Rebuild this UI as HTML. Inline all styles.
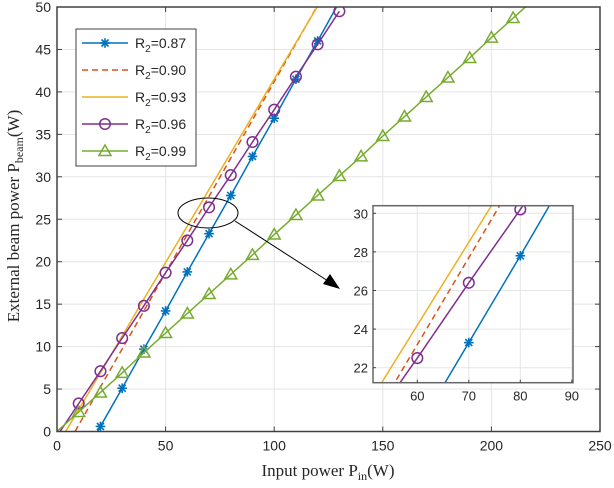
<!DOCTYPE html>
<html><head><meta charset="utf-8"><style>
html,body{margin:0;padding:0;background:#fff;overflow:hidden;width:614px;height:488px}
svg{display:block}
svg text{font-family:"Liberation Sans",sans-serif;fill:#262626}
</style></head><body>
<svg id="c" width="614" height="488" xmlns="http://www.w3.org/2000/svg"></svg>
<script>
const xTicks=[0,50,100,150,200,250];
const yTicks=[0,5,10,15,20,25,30,35,40,45,50];
const insetXTicks=[60,70,80,90];
const insetYTicks=[22,24,26,28,30];
const seriesNames=["R2=0.87","R2=0.90","R2=0.93","R2=0.96","R2=0.99"];
const blueX=[18.7,20,30,40,50,60,70,80,90,100,110,120,130];
const blueY=[0,0.6,5.1,9.7,14.2,18.8,23.3,27.8,32.4,36.9,41.5,46.0,50.6];
const blueMarkX=[20,30,40,50,60,70,80,90,100,110,120];
const blueMarkY=[0.6,5.1,9.7,14.2,18.8,23.3,27.8,32.4,36.9,41.5,46.0];
const redX=[8.3,20,40,60,80,100,120];
const redY=[0,5.25,14.2,23.2,32.2,41.2,50.2];
const yellowX=[4,20,40,60,80,100,120];
const yellowY=[0,6.9,15.6,24.2,32.8,41.5,50.1];
const purpleX=[1.4,10,20,30,40,50,60,70,80,90,100,110,120,130];
const purpleY=[0,3.3,7.1,11.0,14.8,18.7,22.5,26.4,30.2,34.1,37.9,41.8,45.6,49.5];
const purpleMarkX=[10,20,30,40,50,60,70,80,90,100,110,120,130];
const purpleMarkY=[3.3,7.1,11.0,14.8,18.7,22.5,26.4,30.2,34.1,37.9,41.8,45.6,49.5];
const greenX=[0,10,20,30,40,50,60,70,80,90,100,110,120,130,140,150,160,170,180,190,200,210,220];
const greenY=[0,2.3,4.6,6.9,9.3,11.6,13.9,16.2,18.5,20.8,23.2,25.5,27.8,30.1,32.4,34.8,37.1,39.4,41.7,44.0,46.4,48.7,51.0];
const greenMarkX=[10,20,30,40,50,60,70,80,90,100,110,120,130,140,150,160,170,180,190,200,210];
const greenMarkY=[2.3,4.6,6.9,9.3,11.6,13.9,16.2,18.5,20.8,23.2,25.5,27.8,30.1,32.4,34.8,37.1,39.4,41.7,44.0,46.4,48.7];

const NS="http://www.w3.org/2000/svg";
const svg=document.getElementById('c');
function mk(tag,attrs,parent){const e=document.createElementNS(NS,tag);for(const k in attrs)e.setAttribute(k,attrs[k]);(parent||svg).appendChild(e);return e;}
const L=57,R=600,T=7,B=431.5;
const X=v=>L+(v-0)/250*(R-L);
const Y=v=>B-(v-0)/50*(B-T);
const iL=373,iR=573,iT=205.7,iB=382.7;
const IX=v=>417.3+(v-60)*5.15;
const IY=v=>213.3-(v-30)*19.3;
const COL=["#0072BD","#D95319","#EDB120","#7E2F8E","#77AC30"];

const defs=mk('defs',{});
const cp=mk('clipPath',{id:'mainclip'},defs);mk('rect',{x:L,y:T,width:R-L,height:B-T},cp);
const cp2=mk('clipPath',{id:'insclip'},defs);mk('rect',{x:iL,y:iT,width:iR-iL,height:iB-iT},cp2);

let g=mk('g',{});


xTicks.forEach(t=>{mk('line',{x1:X(t),x2:X(t),y1:T,y2:B,stroke:'#e5e5e5','stroke-width':1},g);});
yTicks.forEach(t=>{mk('line',{x1:L,x2:R,y1:Y(t),y2:Y(t),stroke:'#e5e5e5','stroke-width':1},g);});

function marker(type,cx,cy,col,parent){
  if(type==='star'){const s=4.8;
    mk('line',{x1:cx-s,x2:cx+s,y1:cy,y2:cy,stroke:col,'stroke-width':1.6},parent);
    mk('line',{x1:cx,x2:cx,y1:cy-s,y2:cy+s,stroke:col,'stroke-width':1.6},parent);
    mk('line',{x1:cx-3.5,x2:cx+3.5,y1:cy-3.5,y2:cy+3.5,stroke:col,'stroke-width':1.6},parent);
    mk('line',{x1:cx-3.5,x2:cx+3.5,y1:cy+3.5,y2:cy-3.5,stroke:col,'stroke-width':1.6},parent);}
  else if(type==='circle'){mk('circle',{cx:cx,cy:cy,r:5.3,fill:'none',stroke:col,'stroke-width':1.5},parent);}
  else if(type==='tri'){mk('polygon',{points:`${cx},${cy-6} ${cx-6},${cy+4.5} ${cx+6},${cy+4.5}`,fill:'none',stroke:col,'stroke-width':1.5},parent);}
}
const series=[
 {xs:blueX,ys:blueY,mx:blueMarkX,my:blueMarkY,m:'star',dash:null},
 {xs:redX,ys:redY,mx:[],my:[],m:null,dash:'6,4'},
 {xs:yellowX,ys:yellowY,mx:[],my:[],m:null,dash:null},
 {xs:purpleX,ys:purpleY,mx:purpleMarkX,my:purpleMarkY,m:'circle',dash:null},
 {xs:greenX,ys:greenY,mx:greenMarkX,my:greenMarkY,m:'tri',dash:null}];
function drawSeries(fx,fy,clip,prefix,inset){
  series.forEach((s,i)=>{
    const sg=mk('g',{'clip-path':`url(#${clip})`});
    
    
    const pts=s.xs.map((x,j)=>fx(x)+','+fy(s.ys[j])).join(' ');
    const a={points:pts,fill:'none',stroke:COL[i],'stroke-width':1.5};
    if(s.dash)a['stroke-dasharray']=s.dash;
    mk('polyline',a,sg);
    s.mx.forEach((x,j)=>{
      if(inset&&(x<52||x>90.5||s.my[j]<21||s.my[j]>30.6))return;
      marker(s.m,fx(x),fy(s.my[j]),COL[i],sg);});
  });
}
drawSeries(X,Y,'mainclip','main-',false);

const ax=mk('rect',{x:L,y:T,width:R-L,height:B-T,fill:'none',stroke:'#404040','stroke-width':1.5});


xTicks.forEach(t=>{mk('line',{x1:X(t),x2:X(t),y1:B,y2:B-5,stroke:'#404040'});mk('line',{x1:X(t),x2:X(t),y1:T,y2:T+5,stroke:'#404040'});
 const tx=mk('text',{x:X(t),y:B+19,'text-anchor':'middle','font-size':14});tx.textContent=t;
 });
yTicks.forEach(t=>{mk('line',{x1:L,x2:L+5,y1:Y(t),y2:Y(t),stroke:'#404040'});mk('line',{x1:R,x2:R-5,y1:Y(t),y2:Y(t),stroke:'#404040'});
 const tx=mk('text',{x:L-6,y:Y(t)+5,'text-anchor':'end','font-size':14});tx.textContent=t;
 });

const an=mk('g',{});


mk('ellipse',{cx:208,cy:213,rx:30,ry:15,fill:'none',stroke:'#000','stroke-width':1},an);
mk('line',{x1:235,y1:221,x2:328,y2:281,stroke:'#000','stroke-width':1},an);
mk('polygon',{points:'340,289 323,284 330,274',fill:'#000'},an);

const ib=mk('rect',{x:iL,y:iT,width:iR-iL,height:iB-iT,fill:'#fff',stroke:'none'});


const ig=mk('g',{});


insetXTicks.forEach(t=>mk('line',{x1:IX(t),x2:IX(t),y1:iT,y2:iB,stroke:'#e5e5e5'},ig));
insetYTicks.forEach(t=>mk('line',{x1:iL,x2:iR,y1:IY(t),y2:IY(t),stroke:'#e5e5e5'},ig));
drawSeries(IX,IY,'insclip','inset-',true);
const ia=mk('rect',{x:iL,y:iT,width:iR-iL,height:iB-iT,fill:'none',stroke:'#666','stroke-width':1.5});


insetXTicks.forEach(t=>{mk('line',{x1:IX(t),x2:IX(t),y1:iB,y2:iB-3,stroke:'#404040'});
 const tx=mk('text',{x:IX(t),y:iB+18,'text-anchor':'middle','font-size':13});tx.textContent=t;
 });
insetYTicks.forEach(t=>{mk('line',{x1:iL,x2:iL+3,y1:IY(t),y2:IY(t),stroke:'#404040'});
 const tx=mk('text',{x:iL-5,y:IY(t)+5,'text-anchor':'end','font-size':13});tx.textContent=t;
 });

const lg=mk('g',{});


mk('rect',{x:76,y:29,width:120,height:137,fill:'#fff',stroke:'#404040','stroke-width':1},lg);
const ly=[43,70,97,124,151];
series.forEach((s,i)=>{
  const e=mk('g',{},lg);
  
  
  const a={x1:82,x2:128,y1:ly[i],y2:ly[i],stroke:COL[i],'stroke-width':1.5};
  if(s.dash)a['stroke-dasharray']=s.dash;
  mk('line',a,e);
  if(s.m)marker(s.m,105,ly[i],COL[i],e);
  const t=mk('text',{x:135,y:ly[i]+5,'font-size':14},e);
  t.innerHTML='R<tspan font-size="10" dy="4">2</tspan><tspan dy="-4">='+seriesNames[i].split('=')[1]+'</tspan>';
});

const xt=mk('text',{x:328,y:476,'text-anchor':'middle','font-size':17,style:'font-family:"Liberation Serif",serif'});
xt.innerHTML='Input power P<tspan font-size="12" dy="4">in</tspan><tspan dy="-4">(W)</tspan>';

const yt=mk('text',{x:0,y:0,'text-anchor':'middle','font-size':17,transform:'translate(19,216) rotate(-90)',style:'font-family:"Liberation Serif",serif'});
yt.innerHTML='External beam power P<tspan font-size="12" dy="4">beam</tspan><tspan dy="-4">(W)</tspan>';

</script>
</body></html>
